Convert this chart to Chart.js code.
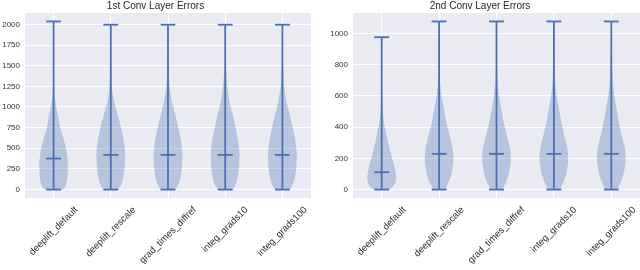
<!DOCTYPE html>
<html>
<head>
<meta charset="utf-8">
<script src="https://cdn.jsdelivr.net/npm/chart.js@4.4.1/dist/chart.umd.min.js"></script>
<style>
  body { margin: 0; background: #fff; }
  .row { display: flex; width: 640px; height: 270px; }
  canvas { display: block; }
</style>
</head>
<body>
<div class="row">
  <canvas id="conv1" width="320" height="270"></canvas>
  <canvas id="conv2" width="320" height="270"></canvas>
</div>
<script>
// Methods on the x axis
const methods = ["deeplift_default", "deeplift_rescale", "grad_times_diffref", "integ_grads10", "integ_grads100"];

// 1st conv layer: extremes, medians, tick labels
const conv1Min = [0, 0, 0, 0, 0];
const conv1Max = [2036, 1996, 1996, 1996, 1996];
const conv1Median = [376, 420, 420, 420, 420];
const conv1Ticks = [0, 250, 500, 750, 1000, 1250, 1500, 1750, 2000];

// 1st conv layer: violin width (fraction of full width) at each error level
const conv1Levels = [0, 50, 150, 300, 450, 600, 750, 900, 1000, 1100, 1250, 1500, 1750];
const conv1Widths = [
    [0.65, 0.85, 0.97, 1.0, 0.92, 0.72, 0.47, 0.3, 0.2, 0.09, 0.04, 0.015, 0.008],
    [0.5, 0.7, 0.88, 0.98, 1.0, 0.9, 0.72, 0.5, 0.33, 0.19, 0.08, 0.03, 0.01],
    [0.5, 0.7, 0.88, 0.98, 1.0, 0.9, 0.72, 0.52, 0.36, 0.24, 0.11, 0.035, 0.012],
    [0.5, 0.7, 0.88, 0.98, 1.0, 0.9, 0.73, 0.54, 0.38, 0.27, 0.15, 0.045, 0.012],
    [0.5, 0.7, 0.88, 0.98, 1.0, 0.9, 0.72, 0.52, 0.37, 0.25, 0.12, 0.04, 0.012]
];

// 2nd conv layer
const conv2Min = [0, 0, 0, 0, 0];
const conv2Max = [976, 1077, 1077, 1077, 1077];
const conv2Median = [111, 229, 229, 229, 229];
const conv2Ticks = [0, 200, 400, 600, 800, 1000];

const conv2Levels = [0, 20, 50, 80, 120, 160, 200, 260, 320, 420, 520, 600, 700, 850];
const conv2Widths = [
    [0.5, 0.8, 0.97, 1.0, 0.94, 0.85, 0.72, 0.56, 0.4, 0.18, 0.06, 0.03, 0.012, 0.004],
    [0.4, 0.52, 0.67, 0.8, 0.9, 0.97, 1.0, 0.95, 0.8, 0.53, 0.33, 0.17, 0.06, 0.015],
    [0.4, 0.52, 0.67, 0.8, 0.9, 0.97, 1.0, 0.95, 0.8, 0.53, 0.33, 0.18, 0.07, 0.02],
    [0.4, 0.52, 0.67, 0.8, 0.9, 0.97, 1.0, 0.95, 0.8, 0.54, 0.35, 0.2, 0.09, 0.025],
    [0.4, 0.52, 0.67, 0.8, 0.9, 0.97, 1.0, 0.95, 0.8, 0.55, 0.36, 0.22, 0.1, 0.03]
];

const BLUE = "#4C72B0";
const BODY = "rgba(76, 114, 176, 0.32)";
const TEXT = "#333333";
const FONT = "'Liberation Sans', Arial, sans-serif";
const HALF_WIDTH = 0.25;  // violin widths = 0.5
const CAP = 0.13;

// Build violin body + stem + caps datasets
function buildDatasets(levels, widths, mins, maxs, medians) {
    const sets = [];
    methods.forEach((_, i) => {
        const c = i + 1;
        const right = levels.map((v, k) => ({ x: c + HALF_WIDTH * widths[i][k], y: v }))
            .filter(p => p.y < maxs[i]);
        const left = right.map(p => ({ x: 2 * c - p.x, y: p.y })).reverse();
        sets.push({
            data: [...right, { x: c, y: maxs[i] }, ...left],
            showLine: true,
            fill: "shape",
            backgroundColor: BODY,
            borderWidth: 0,
            pointRadius: 0,
            tension: 0.2
        });
    });
    const line = pts => ({
        data: pts,
        showLine: true,
        fill: false,
        borderColor: BLUE,
        borderWidth: 1.8,
        pointRadius: 0
    });
    methods.forEach((_, i) => {
        const c = i + 1;
        sets.push(line([{ x: c, y: mins[i] }, { x: c, y: maxs[i] }]));
        [mins[i], maxs[i], medians[i]].forEach(v => {
            sets.push(line([{ x: c - CAP, y: v }, { x: c + CAP, y: v }]));
        });
    });
    return sets;
}

// Grey panel behind the plot
const panelBg = {
    id: "panelBg",
    beforeDraw(chart) {
        const { ctx, chartArea: a } = chart;
        ctx.save();
        ctx.fillStyle = "#EAEAF2";
        ctx.fillRect(a.left, a.top, a.right - a.left, a.bottom - a.top);
        ctx.restore();
    }
};

// Rotated category labels, centred under each tick
const rotatedLabels = {
    id: "rotatedLabels",
    afterDraw(chart) {
        const { ctx } = chart;
        const xs = chart.scales.x;
        const size = 9.5;
        ctx.save();
        ctx.font = size + "px " + FONT;
        ctx.fillStyle = TEXT;
        ctx.textAlign = "center";
        ctx.textBaseline = "middle";
        methods.forEach((label, i) => {
            const px = xs.getPixelForValue(i + 1);
            const w = ctx.measureText(label).width;
            const half = (w + size) * Math.SQRT1_2 / 2;
            ctx.save();
            ctx.translate(px, xs.top + 7 + half);
            ctx.rotate(-Math.PI / 4);
            ctx.fillText(label, 0, 0);
            ctx.restore();
        });
        ctx.restore();
    }
};

function createChart(id, title, datasets, yMin, yMax, yTicks, axisWidth, padRight) {
    const ctx = document.getElementById(id).getContext("2d");
    return new Chart(ctx, {
        type: "scatter",
        data: { datasets },
        options: {
            responsive: false,
            animation: false,
            layout: { padding: { top: 0, right: padRight, bottom: 0, left: 0 } },
            plugins: {
                legend: { display: false },
                tooltip: { enabled: false },
                title: {
                    display: true,
                    text: title,
                    color: "#262626",
                    font: { family: FONT, size: 10, weight: "normal" },
                    padding: { top: 0, bottom: 1 }
                }
            },
            scales: {
                x: {
                    type: "linear",
                    min: 0.5,
                    max: 5.5,
                    afterBuildTicks: s => { s.ticks = methods.map((_, i) => ({ value: i + 1 })); },
                    afterFit: s => { s.height = 72; },
                    grid: { color: "#ffffff", lineWidth: 1, drawTicks: false },
                    border: { display: false },
                    ticks: { display: false }
                },
                y: {
                    min: yMin,
                    max: yMax,
                    afterBuildTicks: s => { s.ticks = yTicks.map(v => ({ value: v })); },
                    afterFit: s => { s.width = axisWidth; },
                    grid: { color: "#ffffff", lineWidth: 1, drawTicks: false },
                    border: { display: false },
                    ticks: {
                        padding: 5,
                        color: TEXT,
                        font: { family: FONT, size: 8 },
                        callback: v => String(v)
                    }
                }
            }
        },
        plugins: [panelBg, rotatedLabels]
    });
}

createChart("conv1", "1st Conv Layer Errors",
    buildDatasets(conv1Levels, conv1Widths, conv1Min, conv1Max, conv1Median),
    -102, 2138, conv1Ticks, 25, 9);

createChart("conv2", "2nd Conv Layer Errors",
    buildDatasets(conv2Levels, conv2Widths, conv2Min, conv2Max, conv2Median),
    -54, 1131, conv2Ticks, 33, 0);
</script>
</body>
</html>
